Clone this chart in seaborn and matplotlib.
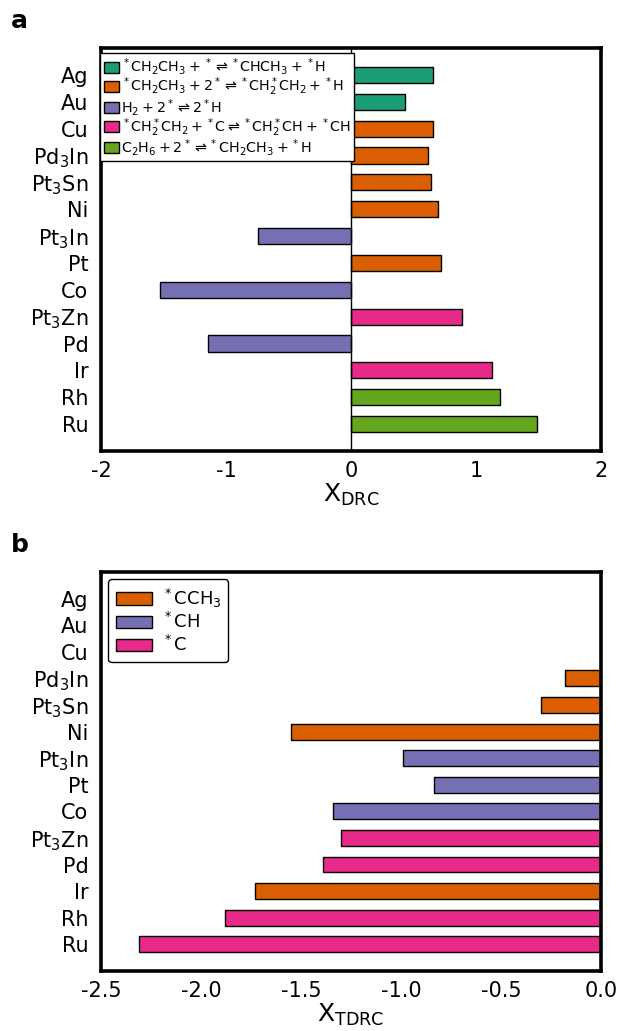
import numpy as np
import pandas as pd
import matplotlib
matplotlib.use("Agg")
import matplotlib.pyplot as plt
from matplotlib.patches import Patch
import seaborn as sns

# ---------------- data ----------------
metals = ["Ag", "Au", "Cu", "Pd$_3$In", "Pt$_3$Sn", "Ni", "Pt$_3$In", "Pt",
          "Co", "Pt$_3$Zn", "Pd", "Ir", "Rh", "Ru"]

# panel a: degree of rate control
drc_values = [0.66, 0.43, 0.66, 0.62, 0.64, 0.70, -0.74, 0.72,
              -1.53, 0.89, -1.14, 1.13, 1.19, 1.49]
drc_step = ["R1", "R1", "R2", "R2", "R2", "R2", "R3", "R2",
            "R3", "R4", "R3", "R4", "R5", "R5"]
step_keys = ["R1", "R2", "R3", "R4", "R5"]
step_labels = [
    r"$^*\mathrm{CH_2CH_3} + {^*} \rightleftharpoons {^*}\mathrm{CHCH_3} + {^*}\mathrm{H}$",
    r"$^*\mathrm{CH_2CH_3} + 2^* \rightleftharpoons {^*}\mathrm{CH_2^*CH_2} + {^*}\mathrm{H}$",
    r"$\mathrm{H_2} + 2^* \rightleftharpoons 2^*\mathrm{H}$",
    r"$^*\mathrm{CH_2^*CH_2} + {^*}\mathrm{C} \rightleftharpoons {^*}\mathrm{CH_2^*CH} + {^*}\mathrm{CH}$",
    r"$\mathrm{C_2H_6} + 2^* \rightleftharpoons {^*}\mathrm{CH_2CH_3} + {^*}\mathrm{H}$",
]
step_colors = ["#1b9e77", "#d95f02", "#7570b3", "#e7298a", "#66a61e"]

# panel b: degree of thermodynamic rate control
tdrc_values = [np.nan, np.nan, np.nan, -0.18, -0.30, -1.55, -0.99, -0.835,
               -1.34, -1.30, -1.39, -1.73, -1.88, -2.31]
tdrc_species = [None, None, None, "CCH3", "CCH3", "CCH3", "CH", "CH",
                "CH", "C", "C", "CCH3", "C", "C"]
species_keys = ["CCH3", "CH", "C"]
species_labels = [r"$^*$CCH$_3$", r"$^*$CH", r"$^*$C"]
species_colors = ["#d95f02", "#7570b3", "#e7298a"]

xticks_a = [-2, -1, 0, 1, 2]
xticks_b = [-2.5, -2.0, -1.5, -1.0, -0.5, 0.0]

# ---------------- style ----------------
sns.set_style("white")
plt.rcParams["font.family"] = ["DejaVu Sans"]
plt.rcParams["axes.unicode_minus"] = False
plt.rcParams["mathtext.default"] = "regular"
for k in ["text.color", "axes.labelcolor", "xtick.color", "ytick.color",
          "axes.edgecolor"]:
    plt.rcParams[k] = "black"

fig = plt.figure(figsize=(6.2, 10.31), dpi=100)
ax_a = fig.add_axes([0.163, 0.5626, 0.806, 0.3908])
ax_b = fig.add_axes([0.163, 0.0583, 0.806, 0.3869])

df_a = pd.DataFrame({"metal": metals, "value": drc_values, "step": drc_step})
df_b = pd.DataFrame({"metal": metals, "value": tdrc_values, "species": tdrc_species}).dropna()

sns.barplot(data=df_a, y="metal", x="value", hue="step", hue_order=step_keys,
            order=metals, orient="h", dodge=False, width=0.6,
            palette=step_colors, edgecolor="black", linewidth=1.0,
            saturation=1, legend=False, ax=ax_a)
sns.barplot(data=df_b, y="metal", x="value", hue="species", hue_order=species_keys,
            order=metals, orient="h", dodge=False, width=0.6,
            palette=species_colors, edgecolor="black", linewidth=1.0,
            saturation=1, legend=False, ax=ax_b)

ax_a.axvline(0, color="black", lw=1.0, zorder=1)

for ax, lim, ticks, lab in [(ax_a, (-2, 2), xticks_a, r"X$_{\mathrm{DRC}}$"),
                            (ax_b, (-2.5, 0), xticks_b, r"X$_{\mathrm{TDRC}}$")]:
    ax.set_xlim(*lim)
    ax.set_ylim(len(metals), -1)
    ax.set_xticks(ticks)
    if ax is ax_a:
        ax.set_xticklabels([f"{t:d}" for t in ticks])
    else:
        ax.set_xticklabels([f"{t:.1f}" for t in ticks])
    ax.set_xlabel(lab, fontsize=18, labelpad=1, color="black")
    ax.set_ylabel("")
    ax.tick_params(axis="x", direction="in", length=8, width=1.6,
                   labelsize=15, pad=7, color="black", labelcolor="black")
    ax.tick_params(axis="y", length=0, labelsize=15, pad=9, labelcolor="black")
    for sp in ax.spines.values():
        sp.set_visible(True)
        sp.set_linewidth(2.6)
        sp.set_color("black")

handles_a = [Patch(facecolor=c, edgecolor="black", linewidth=1.0) for c in step_colors]
leg_a = ax_a.legend(handles_a, step_labels, loc="upper left",
                    bbox_to_anchor=(-0.002, 0.988), borderaxespad=0.0,
                    fontsize=10.3, handlelength=1.05, handleheight=0.8,
                    handletextpad=0.15, labelspacing=-0.12, borderpad=0.25,
                    fancybox=False, edgecolor="black", framealpha=1)
leg_a.get_frame().set_linewidth(1.0)

handles_b = [Patch(facecolor=c, edgecolor="black", linewidth=1.0) for c in species_colors]
leg_b = ax_b.legend(handles_b, species_labels, loc="upper left",
                    fontsize=13, handlelength=2.0, handletextpad=0.55,
                    labelspacing=0.15, borderaxespad=0.4, borderpad=0.4,
                    fancybox=True, edgecolor="black", framealpha=1)
leg_b.get_frame().set_linewidth(1.0)

fig.text(0.018, 1 - 28.5 / 1031, "a", fontsize=18, fontweight="bold",
         va="baseline", color="black")
fig.text(0.018, 1 - 552.5 / 1031, "b", fontsize=18, fontweight="bold",
         va="baseline", color="black")

fig.savefig("out.png", dpi=100)
